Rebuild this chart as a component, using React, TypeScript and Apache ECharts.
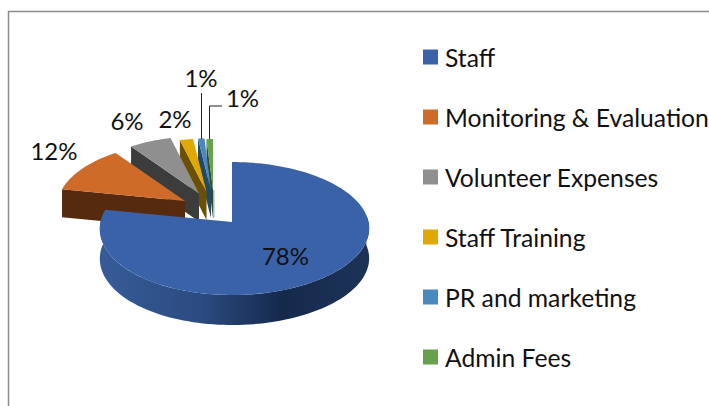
import React, { useEffect, useRef } from "react";
import * as echarts from "echarts";

const categories = ["Staff", "Monitoring & Evaluation", "Volunteer Expenses", "Staff Training", "PR and marketing", "Admin Fees"];
const shares = [78, 12, 6, 2, 1, 1];

const topColors = ["#3A62A9", "#CE6B29", "#8F8F8F", "#E0A800", "#4A89BE", "#67A14C"];
const sideColors = ["#1C3358", "#552A0F", "#3C3C3C", "#6A5000", "#22486A", "#2F4D24"];
const slicePlacement = [
  { ax: 232, ay: 222, s: 1, z: 10 },
  { ax: 185, ay: 201, s: 0.97, z: 9 },
  { ax: 199, ay: 193.5, s: 0.95, z: 8 },
  { ax: 206.5, ay: 192, s: 0.89, z: 7 },
  { ax: 211, ay: 190, s: 0.86, z: 6 },
  { ax: 213, ay: 190, s: 0.85, z: 5 },
];
const labelSpots = [
  [285.5, 255],
  [54, 150],
  [127, 120],
  [175, 118],
  [201, 77],
  [242.5, 97],
];
const DEPTH = 28;
const FONT = "Lato, 'Open Sans', sans-serif";

function project(p: { ax: number; ay: number; s: number }, deg: number) {
  const t = (deg * Math.PI) / 180;
  const u = Math.sin(t);
  const v = -Math.cos(t);
  return [
    p.ax + p.s * (134 * u * (1 + 0.1 * v) + 2.5 * u * u),
    p.ay + p.s * (66.5 * v + 6.5 * v * v),
  ];
}

function arc(p: any, a: number, b: number) {
  const pts: number[][] = [];
  const n = Math.max(2, Math.ceil(Math.abs(b - a) / 2));
  for (let i = 0; i <= n; i++) pts.push(project(p, a + ((b - a) * i) / n));
  return pts;
}

const total = shares.reduce((a, b) => a + b, 0);
const starts = shares.map((_, i) => shares.slice(0, i).reduce((a, b) => a + b, 0));

function makeSeries(i: number) {
  return {
    type: "custom",
    name: categories[i],
    coordinateSystem: "none",
    silent: true,
    z: slicePlacement[i].z,
    itemStyle: { color: topColors[i] },
    data: [[shares[i], starts[i]]],
    renderItem: (_: any, api: any) => {
      const a0 = (api.value(1) / total) * 360;
      const a1 = ((api.value(1) + api.value(0)) / total) * 360;
      const p = slicePlacement[i];
      const apex = [p.ax, p.ay];
      const top = arc(p, a0, a1);
      const children: any[] = [];
      if (i === 0) {
        const front = arc(p, 84, 277);
        const pts = front.concat(front.slice().reverse().map((q) => [q[0], q[1] + DEPTH + 2]));
        children.push({
          type: "polygon",
          shape: { points: pts },
          style: {
            fill: new echarts.graphic.LinearGradient(0, 0, 1, 0, [
              { offset: 0, color: "#365C98" },
              { offset: 0.38, color: "#2B4A80" },
              { offset: 0.68, color: "#15294B" },
              { offset: 1, color: "#1C3358" },
            ]),
          },
        });
      } else {
        const e = top[0];
        if (i === 5) {
          children.push({
            type: "polygon",
            shape: {
              points: [apex, [apex[0] + 1.5, apex[1]], [apex[0] + 1.5, apex[1] + DEPTH], [apex[0], apex[1] + DEPTH]],
            },
            style: { fill: "#A9B7BF" },
          });
        }
        children.push({
          type: "polygon",
          shape: {
            points: [apex, e, [e[0], e[1] + DEPTH], [apex[0], apex[1] + DEPTH]],
          },
          style: { fill: sideColors[i] },
        });
      }
      children.push({
        type: "polygon",
        shape: { points: [apex, ...top] },
        style: { fill: topColors[i] },
      });
      children.push({
        type: "text",
        z2: 20,
        style: {
          text: Math.round(api.value(0)) + "%",
          x: labelSpots[i][0],
          y: labelSpots[i][1],
          align: "center",
          verticalAlign: "middle",
          font: `24px ${FONT}`,
          fill: "#111111",
        },
      });
      return { type: "group", children };
    },
  };
}

export default function App() {
  const ref = useRef<HTMLDivElement>(null);
  useEffect(() => {
    document.body.style.margin = "0";
    const chart = echarts.init(ref.current!, undefined, { renderer: "svg" });
    chart.setOption({
      animation: false,
      backgroundColor: "#FFFFFF",
      legend: {
        orient: "vertical",
        left: 423,
        top: 42,
        padding: 0,
        itemWidth: 15,
        itemHeight: 15,
        itemGap: 30,
        icon: "rect",
        selectedMode: false,
        data: categories,
        textStyle: {
          fontFamily: FONT,
          fontSize: 24.7,
          color: "#111111",
          lineHeight: 30,
          padding: [0, 0, 0, 2],
        },
      },
      series: categories.map((_, i) => makeSeries(i)),
      graphic: [
        {
          type: "polyline",
          silent: true,
          z: 0,
          shape: { points: [[8.5, 406], [8.5, 11.5], [709, 11.5]] },
          style: { stroke: "#8C8C8C", lineWidth: 1.5, fill: "none" },
        },
        {
          type: "polyline",
          silent: true,
          z: 100,
          shape: { points: [[201.5, 93], [201.5, 139]] },
          style: { stroke: "#222222", lineWidth: 1, fill: "none" },
        },
        {
          type: "polyline",
          silent: true,
          z: 100,
          shape: { points: [[209.5, 139], [209.5, 106], [222, 106]] },
          style: { stroke: "#222222", lineWidth: 1, fill: "none" },
        },
      ],
    });
    return () => chart.dispose();
  }, []);
  return <div ref={ref} style={{ width: 709, height: 406 }} />;
}
